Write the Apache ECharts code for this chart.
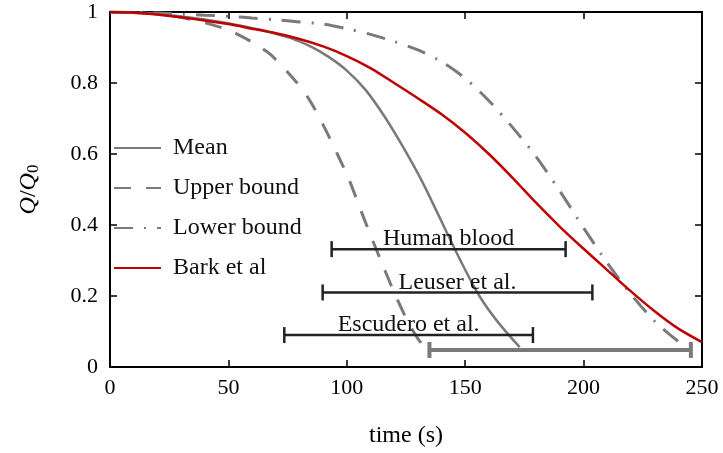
<!DOCTYPE html>
<html>
<head>
<meta charset="utf-8">
<script src="https://cdn.jsdelivr.net/npm/echarts@6/dist/echarts.min.js"></script>
<style>
  html, body { margin: 0; padding: 0; background: #fff; }
  #chart { width: 723px; height: 453px; }
</style>
</head>
<body>
<div id="chart"></div>
<script>
// Normalised flow Q/Q0 against time (s)
const meanT = [0, 20, 40, 54, 66, 76, 84, 92, 100, 108, 116, 124, 132, 140, 148, 156, 164, 173];
const meanQ = [1, 0.994, 0.979, 0.963, 0.946, 0.927, 0.905, 0.875, 0.835, 0.78, 0.705, 0.617, 0.52, 0.41, 0.3, 0.2, 0.125, 0.056];

const upperT = [0, 20, 30, 41, 50, 56, 62, 68, 78, 84, 90, 96, 101, 106, 111, 115, 120, 126, 130, 133];
const upperQ = [1, 0.995, 0.985, 0.968, 0.949, 0.93, 0.907, 0.879, 0.808, 0.755, 0.682, 0.6, 0.527, 0.44, 0.355, 0.29, 0.21, 0.125, 0.08, 0.055];

const lowerT = [0, 10, 20, 30, 40, 50, 60, 70, 80, 90, 100, 110, 120, 130, 140, 150, 160, 170, 180, 190, 200, 210, 220, 230, 240, 243];
const lowerQ = [1, 0.999, 0.997, 0.994, 0.991, 0.988, 0.983, 0.978, 0.972, 0.966, 0.953, 0.937, 0.917, 0.893, 0.86, 0.813, 0.75, 0.675, 0.592, 0.495, 0.392, 0.293, 0.205, 0.129, 0.072, 0.062];

const barkT = [0, 10, 20, 30, 40, 50, 60, 70, 80, 90, 100, 110, 120, 130, 140, 150, 160, 170, 180, 190, 200, 210, 220, 230, 240, 250];
const barkQ = [1, 0.998, 0.993, 0.985, 0.976, 0.966, 0.953, 0.94, 0.924, 0.903, 0.876, 0.842, 0.8, 0.757, 0.712, 0.66, 0.6, 0.533, 0.462, 0.395, 0.333, 0.273, 0.213, 0.157, 0.108, 0.07];

// Reported time ranges (horizontal interval bars)
const rangeNames = ['Human blood', 'Leuser et al.', 'Escudero et al.', ''];
const rangeLow   = [93.6, 89.8, 73.6, 134.9];
const rangeHigh  = [192.4, 203.7, 178.6, 245.3];
const rangeLevel = [0.332, 0.21, 0.09, 0.048];

const xTicks = [0, 50, 100, 150, 200, 250];
const yTicks = [0, 0.2, 0.4, 0.6, 0.8, 1];

const FONT = '"Liberation Serif", "DejaVu Serif", serif';
const GREY = '#7a7a7a';
const RED = '#c00000';
const DARK = '#222222';

const pairs = (t, q) => t.map((v, i) => [v, q[i]]);

const frameAxis = {
  axisLine: { show: true, onZero: false, lineStyle: { color: '#000', width: 2 } },
  axisTick: { show: true, inside: true, length: 7, lineStyle: { color: '#000', width: 1.5 } },
  splitLine: { show: false }
};

const curve = (name, t, q, color, width, dash, z) => ({
  name: name, type: 'line', data: pairs(t, q),
  smooth: 0.3, symbol: 'none', z: z,
  lineStyle: { color: color, width: width, type: dash },
  itemStyle: { color: color }
});

const chart = echarts.init(document.getElementById('chart'), null, { renderer: 'canvas' });

chart.setOption({
  animation: false,
  backgroundColor: '#fff',
  grid: { left: 110, right: 21, top: 12, bottom: 86, containLabel: false },
  legend: {
    orient: 'vertical',
    left: 113,
    top: 136,
    padding: 0,
    itemWidth: 47,
    itemHeight: 14,
    itemGap: 16,
    itemStyle: { opacity: 0 },
    textStyle: { fontFamily: FONT, fontSize: 24, color: '#111', lineHeight: 22, padding: [0, 0, 0, 7] },
    data: ['Mean', 'Upper bound', 'Lower bound', 'Bark et al']
  },
  xAxis: [
    Object.assign({
      type: 'value', min: xTicks[0], max: xTicks[xTicks.length - 1], interval: 50, position: 'bottom',
      axisLabel: { margin: 10, fontFamily: FONT, fontSize: 22, color: '#000' },
      name: 'time (s)', nameLocation: 'middle', nameGap: 57,
      nameTextStyle: { fontFamily: FONT, fontSize: 24, color: '#000' }
    }, frameAxis),
    Object.assign({
      type: 'value', min: xTicks[0], max: xTicks[xTicks.length - 1], interval: 50, position: 'top',
      axisLabel: { show: false }
    }, frameAxis)
  ],
  yAxis: [
    Object.assign({
      type: 'value', min: yTicks[0], max: yTicks[yTicks.length - 1], interval: 0.2, position: 'left',
      axisLabel: { margin: 12, fontFamily: FONT, fontSize: 22, color: '#000' },
      name: '{q|Q}{n|/}{q|Q}{s|0}', nameLocation: 'middle', nameGap: 68, nameRotate: 90,
      nameTextStyle: {
        fontFamily: FONT, fontSize: 24, color: '#000',
        rich: {
          q: { fontFamily: FONT, fontStyle: 'italic', fontSize: 24, color: '#000' },
          n: { fontFamily: FONT, fontSize: 24, color: '#000' },
          s: { fontFamily: FONT, fontSize: 17, color: '#000', padding: [10, 0, 0, 0] }
        }
      }
    }, frameAxis),
    Object.assign({
      type: 'value', min: yTicks[0], max: yTicks[yTicks.length - 1], interval: 0.2, position: 'right',
      axisLabel: { show: false }
    }, frameAxis)
  ],
  series: [
    curve('Mean', meanT, meanQ, GREY, 2.5, 'solid', 3),
    curve('Upper bound', upperT, upperQ, GREY, 3, [17, 15], 3),
    curve('Lower bound', lowerT, lowerQ, GREY, 3, [19, 11, 2, 11], 3),
    curve('Bark et al', barkT, barkQ, RED, 2.5, 'solid', 4),
    {
      name: 'ranges', type: 'custom', z: 5,
      encode: { x: [0, 1], y: 2 },
      data: rangeLevel.map((y, i) => [rangeLow[i], rangeHigh[i], y]),
      renderItem: function (params, api) {
        const i = params.dataIndex;
        const a = api.coord([api.value(0), api.value(2)]);
        const b = api.coord([api.value(1), api.value(2)]);
        const plain = rangeNames[i] === '';
        const color = plain ? GREY : DARK;
        const w = plain ? 4 : 2.5;
        const cap = 8;
        const style = { stroke: color, lineWidth: w };
        const children = [
          { type: 'line', shape: { x1: a[0], y1: a[1], x2: b[0], y2: b[1] }, style: style },
          { type: 'line', shape: { x1: a[0], y1: a[1] - cap, x2: a[0], y2: a[1] + cap }, style: style },
          { type: 'line', shape: { x1: b[0], y1: b[1] - cap, x2: b[0], y2: b[1] + cap }, style: style }
        ];
        if (!plain) {
          children.push({
            type: 'text',
            style: {
              x: (a[0] + b[0]) / 2, y: a[1] + 2,
              text: rangeNames[i],
              fill: '#111', font: '24px ' + FONT,
              align: 'center', verticalAlign: 'bottom'
            }
          });
        }
        return { type: 'group', children: children };
      }
    }
  ]
});
</script>
</body>
</html>
